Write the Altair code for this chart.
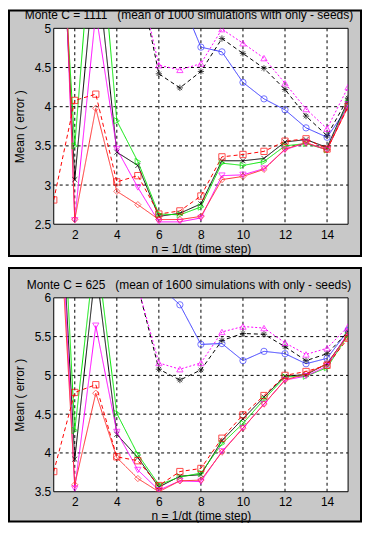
import altair as alt
import pandas as pd

X_STEPS = list(range(1, 16))
X_TICKS = [2, 4, 6, 8, 10, 12, 14]

SERIES = ["blue_o", "black_star_dash", "magenta_tri_dot", "black_x",
          "green_tri", "magenta_v", "red_diamond", "red_square_dash"]
COLORS = ["#3a3aff", "#000000", "#ff00ff", "#000000",
          "#00e600", "#ff00ff", "#ff3030", "#ff0000"]
DASHES = [[1, 0], [4, 3], [2, 2], [1, 0], [1, 0], [1, 0], [1, 0], [4, 3]]
STAR = "M-1,0L1,0M0,-1L0,1M-0.7,-0.7L0.7,0.7M-0.7,0.7L0.7,-0.7"
XMARK = "M-0.8,-0.8L0.8,0.8M-0.8,0.8L0.8,-0.8"
SHAPES = ["circle", STAR, "triangle-up", XMARK,
          "triangle-right", "triangle-down", "diamond", "square"]

N = None

# ---------------- top panel: Monte C = 1111 ----------------
TOP_TITLE = "Monte C = 1111\u00a0\u00a0\u00a0(mean of 1000 simulations with only - seeds)"
TOP_Y_TICKS = [2.5, 3, 3.5, 4, 4.5, 5]
top_blue_o          = [N, N, N, N, N, N, 5.41, 4.76, 4.70, 4.31, 4.10, 3.96, 3.73, 3.61, 4.00]
top_black_star_dash = [N, N, N, N, 5.72, 4.42, 4.24, 4.45, 4.87, 4.68, 4.49, 4.22, 3.88, 3.63, 4.11]
top_magenta_tri_dot = [N, N, N, N, 5.70, 4.53, 4.47, 4.55, 4.99, 4.81, 4.62, 4.30, 3.97, 3.72, 4.25]
top_black_x         = [8.5, 3.07, 5.95, 3.42, 3.25, 2.60, 2.64, 2.76, 3.31, 3.31, 3.34, 3.55, 3.58, 3.48, 4.08]
top_green_tri       = [8.0, 3.50, 6.90, 3.82, 3.30, 2.63, 2.62, 2.72, 3.28, 3.25, 3.30, 3.50, 3.53, 3.45, 4.05]
top_magenta_v       = [9.5, 2.55, 5.20, 3.46, 2.97, 2.53, 2.53, 2.58, 3.12, 3.13, 3.21, 3.45, 3.54, 3.45, 4.03]
top_red_diamond     = [10.0, 2.56, 3.98, 2.92, 2.75, 2.56, 2.56, 2.60, 3.07, 3.11, 3.20, 3.46, 3.54, 3.45, 4.00]
top_red_square_dash = [2.81, 4.08, 4.16, 3.04, 3.12, 2.63, 2.67, 2.86, 3.36, 3.39, 3.43, 3.56, 3.59, 3.46, 4.00]

# ---------------- bottom panel: Monte C = 625 ----------------
BOT_TITLE = "Monte C = 625\u00a0\u00a0\u00a0(mean of 1600 simulations with only - seeds)"
BOT_Y_TICKS = [3.5, 4, 4.5, 5, 5.5, 6]
bot_blue_o          = [N, N, N, N, N, 6.16, 5.91, 5.40, 5.41, 5.19, 5.31, 5.28, 5.15, 5.22, 5.58]
bot_black_star_dash = [N, N, N, N, 6.15, 5.08, 4.94, 5.07, 5.45, 5.54, 5.53, 5.37, 5.19, 5.28, 5.56]
bot_magenta_tri_dot = [N, N, N, N, 6.15, 5.16, 5.08, 5.16, 5.56, 5.63, 5.61, 5.42, 5.27, 5.35, 5.63]
bot_black_x         = [9.0, 3.92, 6.40, 4.24, 3.94, 3.56, 3.70, 3.72, 4.16, 4.44, 4.72, 4.99, 5.01, 5.15, 5.53]
bot_green_tri       = [9.6, 4.29, 6.70, 4.51, 3.98, 3.59, 3.69, 3.74, 4.12, 4.38, 4.69, 4.98, 4.99, 5.10, 5.52]
bot_magenta_v       = [9.0, 3.54, 5.64, 4.27, 3.78, 3.52, 3.64, 3.63, 4.02, 4.32, 4.63, 4.94, 4.99, 5.12, 5.55]
bot_red_diamond     = [8.4, 3.59, 4.77, 3.94, 3.67, 3.50, 3.64, 3.65, 4.01, 4.32, 4.63, 4.94, 5.02, 5.15, 5.52]
bot_red_square_dash = [3.76, 4.78, 4.88, 3.95, 3.90, 3.58, 3.76, 3.80, 4.19, 4.49, 4.74, 5.00, 5.05, 5.13, 5.48]

X_TITLE = "n = 1/dt (time step)"
Y_TITLE = "Mean ( error )"
FONT = "Liberation Sans"
PANEL_GRAY = "#c8c8c8"


def long_frame(cols):
    rows = []
    for name, vals in zip(SERIES, cols):
        for x, v in zip(X_STEPS, vals):
            if v is not None:
                rows.append({"x": x, "y": v, "s": name})
    return pd.DataFrame(rows)


def panel(title, ticks, cols, H, above, below):
    W = 296
    df = long_frame(cols)
    one = pd.DataFrame({"k": [0]})
    x_enc = alt.X("x:Q",
                  scale=alt.Scale(domain=[1, 15], nice=False, zero=False),
                  axis=alt.Axis(values=X_TICKS, title=X_TITLE, grid=False, ticks=False,
                                domain=False, format="d", labelFontSize=12, titleFontSize=12,
                                labelPadding=5, titlePadding=3, zindex=1, labelColor="black",
                                titleColor="black", titleFontWeight="normal", labelFont=FONT,
                                titleFont=FONT))
    y_enc = alt.Y("y:Q",
                  scale=alt.Scale(domain=[ticks[0], ticks[-1]], nice=False, zero=False),
                  axis=alt.Axis(values=ticks, title=Y_TITLE, grid=False, ticks=False,
                                domain=False, format=".1~f", labelFontSize=12, titleFontSize=12,
                                labelPadding=3, titlePadding=8, zindex=1, labelColor="black",
                                titleColor="black", titleFontWeight="normal", labelFont=FONT,
                                titleFont=FONT))
    color_enc = alt.Color("s:N", scale=alt.Scale(domain=SERIES, range=COLORS), legend=None)
    dash_enc = alt.StrokeDash("s:N", scale=alt.Scale(domain=SERIES, range=DASHES), legend=None)
    shape_enc = alt.Shape("s:N", scale=alt.Scale(domain=SERIES, range=SHAPES), legend=None)
    order_enc = alt.Order("x:Q")

    frame = alt.Chart(one).mark_rect(fill=PANEL_GRAY, stroke="black", strokeWidth=2).encode(
        x=alt.value(-45), x2=alt.value(W + 13), y=alt.value(-above), y2=alt.value(H + below))
    plot_bg = alt.Chart(one).mark_rect(fill="white", stroke="black", strokeWidth=1).encode(
        x=alt.value(0), x2=alt.value(W), y=alt.value(0), y2=alt.value(H))
    vgrid = alt.Chart(pd.DataFrame({"x": X_TICKS})).mark_rule(
        color="black", strokeDash=[3, 3], strokeWidth=1).encode(
        x=x_enc, y=alt.value(0), y2=alt.value(H))
    hgrid = alt.Chart(pd.DataFrame({"y": ticks[1:-1]})).mark_rule(
        color="black", strokeDash=[3, 3], strokeWidth=1).encode(
        y=y_enc, x=alt.value(0), x2=alt.value(W))
    lines = alt.Chart(df).mark_line(clip=True, strokeWidth=1).encode(
        x=x_enc, y=y_enc, color=color_enc, strokeDash=dash_enc, order=order_enc)
    points = alt.Chart(df).mark_point(clip=True, filled=False, size=40, strokeWidth=1).encode(
        x=x_enc, y=y_enc, color=color_enc, shape=shape_enc)
    title_txt = alt.Chart(one).mark_text(
        text=title, fontSize=12, font=FONT, baseline="middle", align="center",
        color="black").encode(x=alt.value(136), y=alt.value(-13))
    return alt.layer(frame, plot_bg, vgrid, hgrid, lines, points, title_txt).properties(
        width=W, height=H)


top_cols = [top_blue_o, top_black_star_dash, top_magenta_tri_dot, top_black_x,
            top_green_tri, top_magenta_v, top_red_diamond, top_red_square_dash]
bot_cols = [bot_blue_o, bot_black_star_dash, bot_magenta_tri_dot, bot_black_x,
            bot_green_tri, bot_magenta_v, bot_red_diamond, bot_red_square_dash]

top = panel(TOP_TITLE, TOP_Y_TICKS, top_cols, 197, 18, 32)
bottom = panel(BOT_TITLE, BOT_Y_TICKS, bot_cols, 195, 30, 30)

chart = alt.vconcat(top, bottom, spacing=10).properties(padding=0).configure(
    background="white").configure_view(strokeWidth=0)

chart.save("out.html", embed_options={"renderer": "svg", "actions": False})
